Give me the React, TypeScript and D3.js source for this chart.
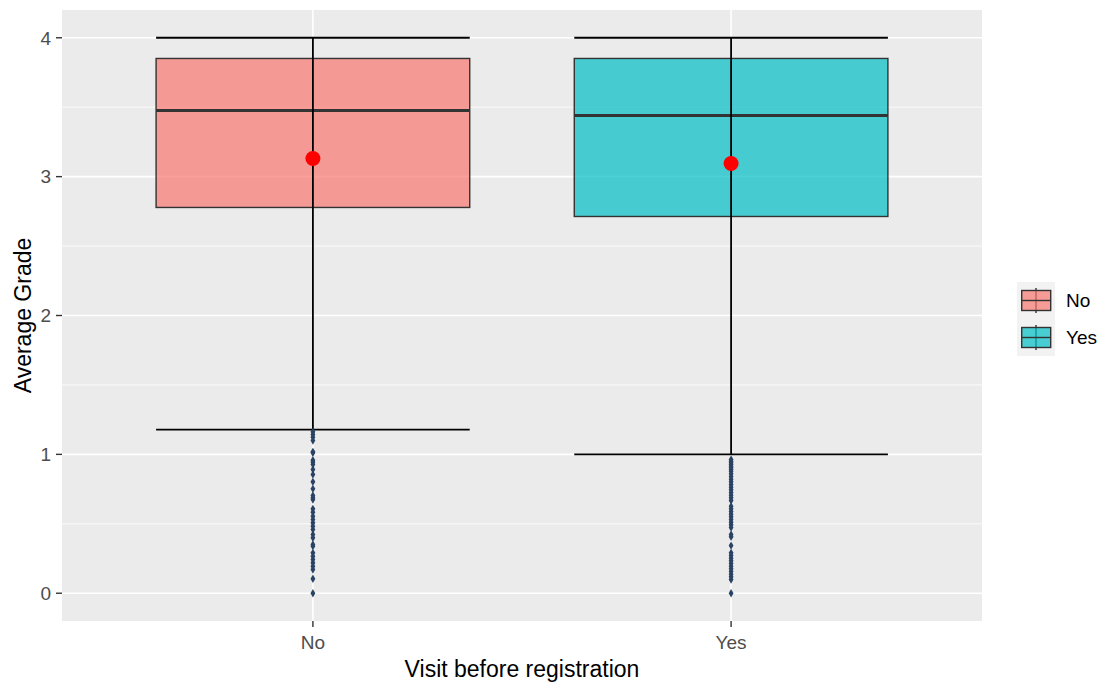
import React from "react";
import * as d3 from "d3";

// Box summary per group
const groups = ["No", "Yes"];
const lowerWhisker = [1.178, 1.0];
const q1 = [2.778, 2.713];
const median = [3.476, 3.44];
const q3 = [3.851, 3.851];
const upperWhisker = [4, 4];
const means = [3.131, 3.095];

// Outlying grades below the lower whisker
const outliersNo = [
  1.162, 1.143, 1.124, 1.1, 1.018, 1.011, 0.958, 0.944, 0.927, 0.891, 0.855,
  0.802, 0.752, 0.704, 0.687, 0.675, 0.608, 0.583, 0.555, 0.531, 0.507, 0.483,
  0.459, 0.423, 0.399, 0.351, 0.339, 0.291, 0.266, 0.243, 0.219, 0.194, 0.171,
  0.104, 0,
];
const outliersYes = [
  0.963, 0.951, 0.939, 0.927, 0.915, 0.903, 0.891, 0.879, 0.86, 0.84, 0.821,
  0.802, 0.783, 0.763, 0.745, 0.725, 0.706, 0.687, 0.668, 0.627, 0.608, 0.588,
  0.569, 0.55, 0.531, 0.511, 0.493, 0.473, 0.423, 0.406, 0.343, 0.291, 0.271,
  0.252, 0.233, 0.214, 0.194, 0.176, 0.157, 0.137, 0.118, 0.099, 0,
];
const outliers = [outliersNo, outliersYes];

const yTicks = [0, 1, 2, 3, 4];
const yMinor = [0.5, 1.5, 2.5, 3.5];

const fills = ["#F8766D", "#00BFC4"];

const W = 1102;
const H = 682;
const panel = { left: 62, right: 982, top: 10, bottom: 621 };
const FONT = "'Liberation Sans', Arial, sans-serif";

export default function App() {
  const x = d3
    .scalePoint<string>()
    .domain(groups)
    .range([panel.left, panel.right])
    .padding(0.6);
  const y = d3.scaleLinear().domain([-0.2, 4.2]).range([panel.bottom, panel.top]);
  const half = x.step() * 0.375;
  const diamond = d3.symbol().type(d3.symbolDiamond).size(20)() as string;

  return (
    <svg
      width={W}
      height={H}
      style={{ position: "absolute", left: 0, top: 0, background: "#fff" }}
      fontFamily={FONT}
    >
      <rect
        x={panel.left}
        y={panel.top}
        width={panel.right - panel.left}
        height={panel.bottom - panel.top}
        fill="#EBEBEB"
      />
      {yMinor.map((t) => (
        <line key={"mn" + t} x1={panel.left} x2={panel.right} y1={y(t)} y2={y(t)} stroke="#fff" strokeWidth={0.8} />
      ))}
      {yTicks.map((t) => (
        <line key={"mj" + t} x1={panel.left} x2={panel.right} y1={y(t)} y2={y(t)} stroke="#fff" strokeWidth={1.6} />
      ))}
      {groups.map((g) => (
        <line key={"vx" + g} x1={x(g)} x2={x(g)} y1={panel.top} y2={panel.bottom} stroke="#fff" strokeWidth={1.6} />
      ))}

      {groups.map((g, i) => {
        const cx = x(g) as number;
        return (
          <g key={"box" + g}>
            <rect
              x={cx - half}
              y={y(q3[i])}
              width={half * 2}
              height={y(q1[i]) - y(q3[i])}
              fill={fills[i]}
              fillOpacity={0.7}
              stroke="#333333"
              strokeWidth={1.4}
            />
            <line x1={cx - half} x2={cx + half} y1={y(median[i])} y2={y(median[i])} stroke="#333333" strokeWidth={3} />
            <line x1={cx} x2={cx} y1={y(lowerWhisker[i])} y2={y(upperWhisker[i])} stroke="#000" strokeWidth={1.8} />
            <line x1={cx - half} x2={cx + half} y1={y(lowerWhisker[i])} y2={y(lowerWhisker[i])} stroke="#000" strokeWidth={1.8} />
            <line x1={cx - half} x2={cx + half} y1={y(upperWhisker[i])} y2={y(upperWhisker[i])} stroke="#000" strokeWidth={1.8} />
            {outliers[i].map((v, j) => (
              <path key={j} d={diamond} transform={`translate(${cx},${y(v)})`} fill="#2A4263" />
            ))}
            <circle cx={cx} cy={y(means[i])} r={7.5} fill="#FF0000" />
          </g>
        );
      })}

      {/* y axis */}
      {yTicks.map((t) => (
        <g key={"yt" + t}>
          <line x1={panel.left - 6} x2={panel.left} y1={y(t)} y2={y(t)} stroke="#333333" strokeWidth={1.4} />
          <text x={panel.left - 11} y={y(t)} dy="0.36em" textAnchor="end" fontSize={19} fill="#4D4D4D">
            {t}
          </text>
        </g>
      ))}
      {/* x axis */}
      {groups.map((g) => (
        <g key={"xt" + g}>
          <line x1={x(g)} x2={x(g)} y1={panel.bottom} y2={panel.bottom + 6} stroke="#333333" strokeWidth={1.4} />
          <text x={x(g)} y={649} textAnchor="middle" fontSize={19} fill="#4D4D4D">
            {g}
          </text>
        </g>
      ))}
      <text x={(panel.left + panel.right) / 2} y={676.5} textAnchor="middle" fontSize={23} fill="#000">
        Visit before registration
      </text>
      <text
        transform={`translate(31,${(panel.top + panel.bottom) / 2}) rotate(-90)`}
        textAnchor="middle"
        fontSize={23}
        fill="#000"
      >
        Average Grade
      </text>

      {/* legend */}
      {groups.map((g, i) => {
        const top = 282 + i * 37;
        const mid = top + 18.5;
        return (
          <g key={"lg" + g}>
            <rect x={1017} y={top} width={38} height={37} fill="#F2F2F2" />
            <line x1={1036} x2={1036} y1={top + 6} y2={top + 31} stroke="#333333" strokeWidth={1.4} />
            <rect x={1021.7} y={mid - 10} width={29} height={20} fill={fills[i]} fillOpacity={0.7} stroke="#333333" strokeWidth={1.4} />
            <line x1={1021.7} x2={1050.7} y1={mid} y2={mid} stroke="#333333" strokeWidth={1.4} />
            <text x={1066} y={mid} dy="0.36em" fontSize={19} fill="#000">
              {g}
            </text>
          </g>
        );
      })}
    </svg>
  );
}
